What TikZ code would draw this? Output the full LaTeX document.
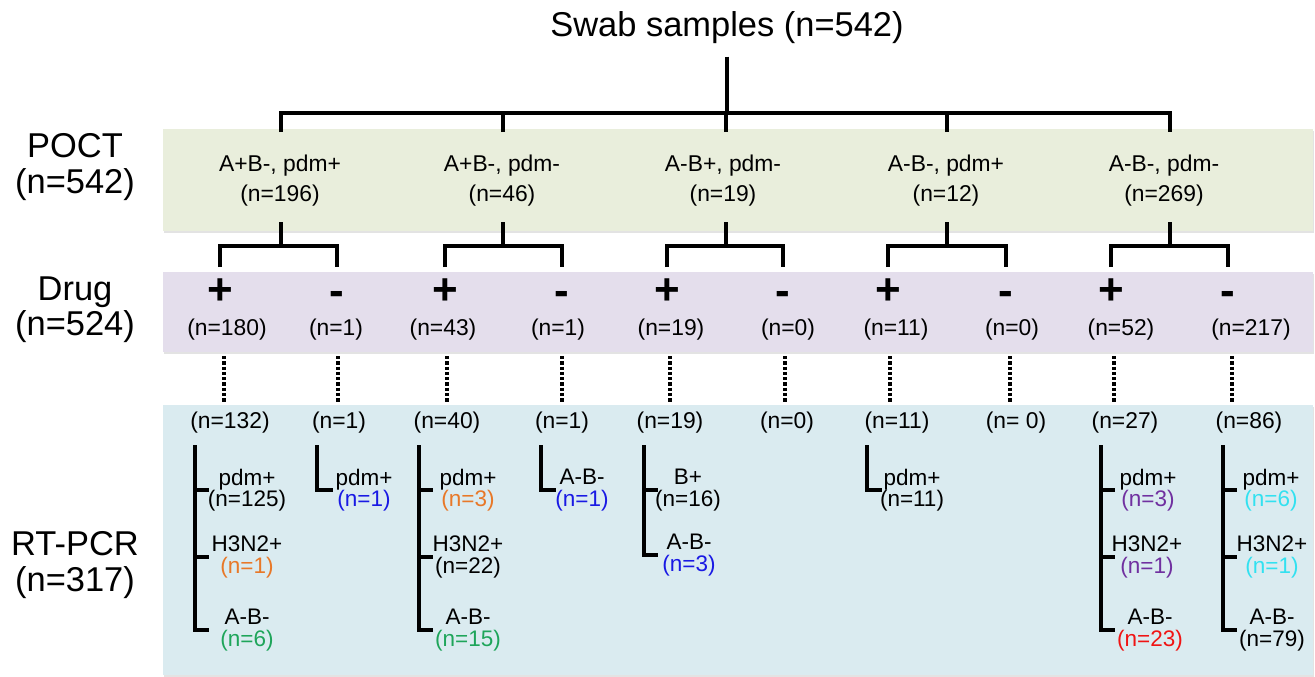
\documentclass[tikz,border=0pt]{standalone}
\usepackage{fontspec}
\setmainfont{Liberation Sans}
\usetikzlibrary{shadows}
\definecolor{PoctGreen}{RGB}{233,238,220}
\definecolor{DrugLilac}{RGB}{228,222,236}
\definecolor{PcrBlue}{RGB}{218,235,240}
\definecolor{NOrange}{RGB}{232,120,40}
\definecolor{NGreen}{RGB}{30,165,90}
\definecolor{NBlue}{RGB}{25,25,228}
\definecolor{NPurple}{RGB}{112,48,160}
\definecolor{NCyan}{RGB}{50,225,240}
\definecolor{NRed}{RGB}{240,20,20}

\begin{document}
\begin{tikzpicture}[
  x=0.2mm, y=-0.2mm,
  band/.style = {drop shadow={opacity=0.22, shadow xshift=0.8pt, shadow yshift=-1.4pt}},
  big/.style  = {font=\fontsize{19.6}{20}\selectfont, align=center, inner sep=0pt},
  grp/.style  = {font=\fontsize{13}{17}\selectfont, align=center},
  num/.style  = {font=\fontsize{13}{15}\selectfont},
  sgn/.style  = {font=\fontsize{25}{25}\selectfont\bfseries, inner sep=0pt},
  res/.style  = {font=\fontsize{12.8}{12.3}\selectfont, align=center, inner sep=1pt},
  tree/.style = {line width=1.8pt},
  dots/.style = {line width=2.6pt, dash pattern=on 1.9pt off 1.1pt},
]

\path[use as bounding box, fill=white] (0,0) rectangle (1315,676);

% bands
\fill[band, PoctGreen] (163,129) rectangle (1313,231);
\fill[band, DrugLilac] (163,272) rectangle (1313,352);
\fill[band, PcrBlue]   (163,405) rectangle (1313,675);

\node[big] at (75,167) {POCT\\(n=542)};
\node[big] at (75,310) {Drug\\(n=524)};
\node[big] at (75,565) {RT-PCR\\(n=317)};

% top of the tree
\node[big, inner sep=7pt] (title) at (727,28) {Swab samples (n=542)};
\coordinate (j0) at (727,113);

\foreach \i/\s/\l/\r/\lx/\txt/\n in {
    1/281/220/337/280/{A+B-, pdm+}/196,
    2/503/445/562/502/{A+B-, pdm-}/46,
    3/726/667/783/723/{A-B+, pdm-}/19,
    4/947/888/1006/946/{A-B-, pdm+}/12,
    5/1170/1111/1228/1164/{A-B-, pdm-}/269}{
  \node[grp] (p\i) at (\lx,181) {\txt\\(n=\n)};
  \coordinate (t\i) at (\s,132);
  \coordinate (s\i) at (\s,222);
  \coordinate (b\i) at (\s,246);
  \coordinate (dl\i) at (\l,267);
  \coordinate (dr\i) at (\r,267);
  \draw[tree] (s\i) -- (b\i);
  \draw[tree] (dl\i) |- (b\i) -| (dr\i);
  \node[sgn, anchor=base] (plus\i)  at (\l,304) {+};
  \node[sgn, anchor=base] (minus\i) at (\r,305) {-};
}

\draw[tree] (title) -- (j0);
\draw[tree] (t1) |- (j0) -| (t5);
\foreach \k in {2,3,4}
  \draw[tree] (t\k) -- (t\k |- j0);

% drug counts, dotted links, RT-PCR counts
\foreach \i/\nx/\nd/\dx/\rx/\nr in {
    1/227/180/224/230/132,
    2/336/1/338/339/1,
    3/443/43/447/447/40,
    4/558/1/562/562/1,
    5/671/19/670/670/19,
    6/788/0/785/787/0,
    7/896/11/890/897/11,
    8/1012/0/1010/1016/{\ 0},
    9/1121/52/1114/1125/27,
    10/1251/217/1232/1249/86}{
  \node[num] (d\i) at (\nx,330) {(n=\nd)};
  \node[num] (r\i) at (\rx,423) {(n=\nr)};
  \coordinate (u\i) at (\dx,356);
  \coordinate (v\i) at (\dx,403);
  \draw[dots] (u\i) -- (v\i);
}

% RT-PCR results
\foreach \nm/\px/\py/\first/\cnt/\clr in {
    l11/247/490/pdm+/(n=125)/black,
    l12/247/557/H3N2+/(n=1)/NOrange,
    l13/247/630/A-B-/(n=6)/NGreen,
    l21/364/490/pdm+/(n=1)/NBlue,
    l31/468/490/pdm+/(n=3)/NOrange,
    l32/468/557/H3N2+/(n=22)/black,
    l33/468/630/A-B-/(n=15)/NGreen,
    l41/582/490/A-B-/(n=1)/NBlue,
    l51/688/490/B+/(n=16)/black,
    l52/689/555/A-B-/(n=3)/NBlue,
    l61/912/490/pdm+/(n=11)/black,
    l71/1148/490/pdm+/(n=3)/NPurple,
    l72/1147/557/H3N2+/(n=1)/NPurple,
    l73/1150/630/A-B-/(n=23)/NRed,
    l81/1271/490/pdm+/(n=6)/NCyan,
    l82/1272/557/H3N2+/(n=1)/NCyan,
    l83/1272/630/A-B-/(n=79)/black}{
  \node[res] (\nm) at (\px,\py) {\first\\\textcolor{\clr}{\cnt}};
}

\coordinate (g1) at (195,445);
\coordinate (g2) at (317,445);
\coordinate (g3) at (419,445);
\coordinate (g4) at (541,445);
\coordinate (g5) at (644,445);
\coordinate (g6) at (867,445);
\coordinate (g7) at (1101,445);
\coordinate (g8) at (1223,445);

\draw[tree] (g1) -- (g1 |- l13.west) -- ++(14,0);
\draw[tree] (g1 |- l11.west) -- ++(14,0);
\draw[tree] (g1 |- l12.west) -- ++(14,0);

\draw[tree] (g2) -- (g2 |- l21.west) -- ++(16,0);

\draw[tree] (g3) -- (g3 |- l33.west) -- ++(14,0);
\draw[tree] (g3 |- l31.west) -- ++(14,0);
\draw[tree] (g3 |- l32.west) -- ++(14,0);

\draw[tree] (g4) -- (g4 |- l41.west) -- ++(15,0);

\draw[tree] (g5) -- (g5 |- l52.west) -- ++(14,0);
\draw[tree] (g5 |- l51.west) -- ++(14,0);

\draw[tree] (g6) -- (g6 |- l61.west) -- ++(15,0);

\draw[tree] (g7) -- (g7 |- l73.west) -- ++(14,0);
\draw[tree] (g7 |- l71.west) -- ++(14,0);
\draw[tree] (g7 |- l72.west) -- ++(14,0);

\draw[tree] (g8) -- (g8 |- l83.west) -- ++(14,0);
\draw[tree] (g8 |- l81.west) -- ++(14,0);
\draw[tree] (g8 |- l82.west) -- ++(14,0);

\end{tikzpicture}
\end{document}
